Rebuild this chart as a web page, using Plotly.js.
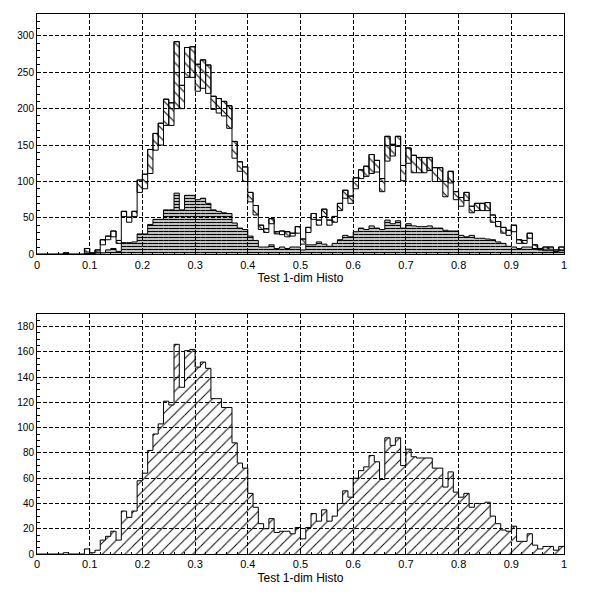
<!DOCTYPE html>
<html><head><meta charset="utf-8">
<script src="https://cdn.plot.ly/plotly-3.0.1.min.js"></script>
<style>html,body{margin:0;padding:0;background:#fff}</style>
</head><body>
<div id="chart" style="width:600px;height:600px"></div>
<script>
const binLow = 0, binHigh = 1, nBins = 100;
const axisTitle = 'Test 1-dim Histo';

// top panel: hatched band (upper and lower edge per bin)
const topHi = [0,0,0,0,0,2,0,0,0,8,
 2,6,20,25,32,19,59,51,59,102,
 110,144,166,180,213,208,292,232,284,285,
 261,267,260,217,214,210,204,155,127,120,
 85,67,40,35,49,31,32,31,29,38,
 21,37,56,47,62,47,52,70,88,80,
 105,116,121,137,129,104,162,151,162,122,
 146,136,133,133,133,119,119,100,114,86,
 78,85,66,70,70,71,54,45,37,33,
 40,20,19,29,13,8,10,10,6,10];
const topLo = [0,0,0,0,0,1,0,0,0,3,
 1,3,13,20,24,15,52,44,52,85,
 90,111,143,150,177,177,200,200,243,243,
 224,228,221,199,194,190,173,132,114,100,
 72,54,34,30,42,28,27,24,25,29,
 14,30,48,40,52,40,44,60,77,70,
 90,104,107,111,113,86,128,135,148,101,
 125,112,112,112,115,100,100,79,98,75,
 66,74,57,60,60,60,44,38,29,26,
 31,15,15,22,8,6,7,7,4,6];
// top panel: dark cross-hatched histogram
const darkHist = [0,0,0,0,0,0,0,0,0,1,
 0,2,2,6,8,4,16,16,17,28,
 28,41,48,48,61,61,84,61,81,81,
 75,77,70,61,59,57,56,43,36,34,
 25,19,10,10,13,8,10,8,10,10,
 6,13,13,17,14,11,15,20,26,24,
 31,36,34,39,36,34,47,42,46,36,
 42,39,38,38,39,36,36,33,32,32,
 26,24,26,22,22,21,20,17,15,11,
 10,8,10,10,7,8,5,5,4,5];
// bottom panel histogram
const bottomHist = [0,0,0,0,0,1,0,0,0,4,
 1,3,11,14,18,11,34,29,34,58,
 64,82,95,103,121,118,166,132,161,162,
 148,152,147,123,123,116,116,88,72,68,
 48,37,24,20,28,17,18,18,16,21,
 12,21,32,26,35,26,30,40,50,45,
 60,66,69,78,73,59,92,86,92,70,
 83,77,76,76,76,68,68,53,65,49,
 45,48,37,40,40,41,30,24,19,18,
 22,10,10,16,7,4,6,6,3,6];

const bw = (binHigh - binLow) / nBins;
const centers = [], edges = [];
for (let i = 0; i < nBins; i++) { centers.push(binLow + (i + 0.5) * bw); edges.push(binLow + i * bw); }
edges.push(binHigh);
const stepY = v => v.concat([v[v.length - 1]]);

const FONT = 'Liberation Sans, Arial, sans-serif';
const CLEAR = 'rgba(0,0,0,0)';

const traces = [
  { type:'bar', x:centers, y:topHi.map((h,i)=>h-topLo[i]), base:topLo, width:bw,
    xaxis:'x', yaxis:'y', hoverinfo:'skip',
    marker:{color:CLEAR, line:{color:'black', width:1},
      pattern:{shape:'\\', fgcolor:'black', bgcolor:CLEAR, size:7, solidity:0.15}} },
  { type:'scatter', mode:'lines', x:edges, y:stepY(topHi), line:{shape:'hv', color:'black', width:1},
    xaxis:'x', yaxis:'y', hoverinfo:'skip' },
  { type:'bar', x:centers, y:darkHist, width:bw, xaxis:'x', yaxis:'y', hoverinfo:'skip',
    marker:{color:CLEAR, line:{width:0},
      pattern:{shape:'-', fgcolor:'black', bgcolor:CLEAR, size:3, solidity:0.5}} },
  { type:'scatter', mode:'lines', x:edges, y:stepY(darkHist), line:{shape:'hv', color:'black', width:1},
    xaxis:'x', yaxis:'y', hoverinfo:'skip' },
  { type:'bar', x:centers, y:bottomHist, width:bw, xaxis:'x2', yaxis:'y2', hoverinfo:'skip',
    marker:{color:CLEAR, line:{width:0},
      pattern:{shape:'/', fgcolor:'black', bgcolor:CLEAR, size:8, solidity:0.12}} },
  { type:'scatter', mode:'lines', x:edges, y:stepY(bottomHist), line:{shape:'hv', color:'black', width:1},
    xaxis:'x2', yaxis:'y2', hoverinfo:'skip' }
];

function xax(anchor){
  return { anchor:anchor, domain:[0,1], range:[binLow,binHigh], tick0:0, dtick:0.1,
    showgrid:true, gridcolor:'black', griddash:'4px,2px', gridwidth:1,
    showline:true, linecolor:'black', linewidth:1, mirror:true, zeroline:false,
    ticks:'inside', ticklen:4, tickcolor:'black',
    minor:{dtick:0.02, ticks:'inside', ticklen:2, tickcolor:'black', showgrid:false},
    tickfont:{family:FONT, size:11, color:'black'},
    title:{text:axisTitle, font:{family:FONT, size:12, color:'black'}, standoff:4} };
}
function yax(anchor, dom, top, dt, mdt){
  return { anchor:anchor, domain:dom, range:[0,top], tick0:0, dtick:dt,
    showgrid:true, gridcolor:'black', griddash:'4px,2px', gridwidth:1,
    showline:true, linecolor:'black', linewidth:1, mirror:true, zeroline:false,
    ticks:'inside', ticklen:4, tickcolor:'black',
    minor:{dtick:mdt, ticks:'inside', ticklen:3, tickcolor:'black', showgrid:false},
    tickfont:{family:FONT, size:10, color:'black'} };
}

const layout = {
  width:600, height:600, margin:{l:37, r:36, t:14, b:46},
  paper_bgcolor:'white', plot_bgcolor:'white', showlegend:false, barmode:'overlay',
  xaxis: xax('y'), yaxis: yax('x', [0.555,1], 330, 50, 10),
  xaxis2: xax('y2'), yaxis2: yax('x2', [0,0.4444], 190, 20, 5)
};

Plotly.newPlot('chart', traces, layout, {staticPlot:true, displayModeBar:false});
</script>
</body></html>
